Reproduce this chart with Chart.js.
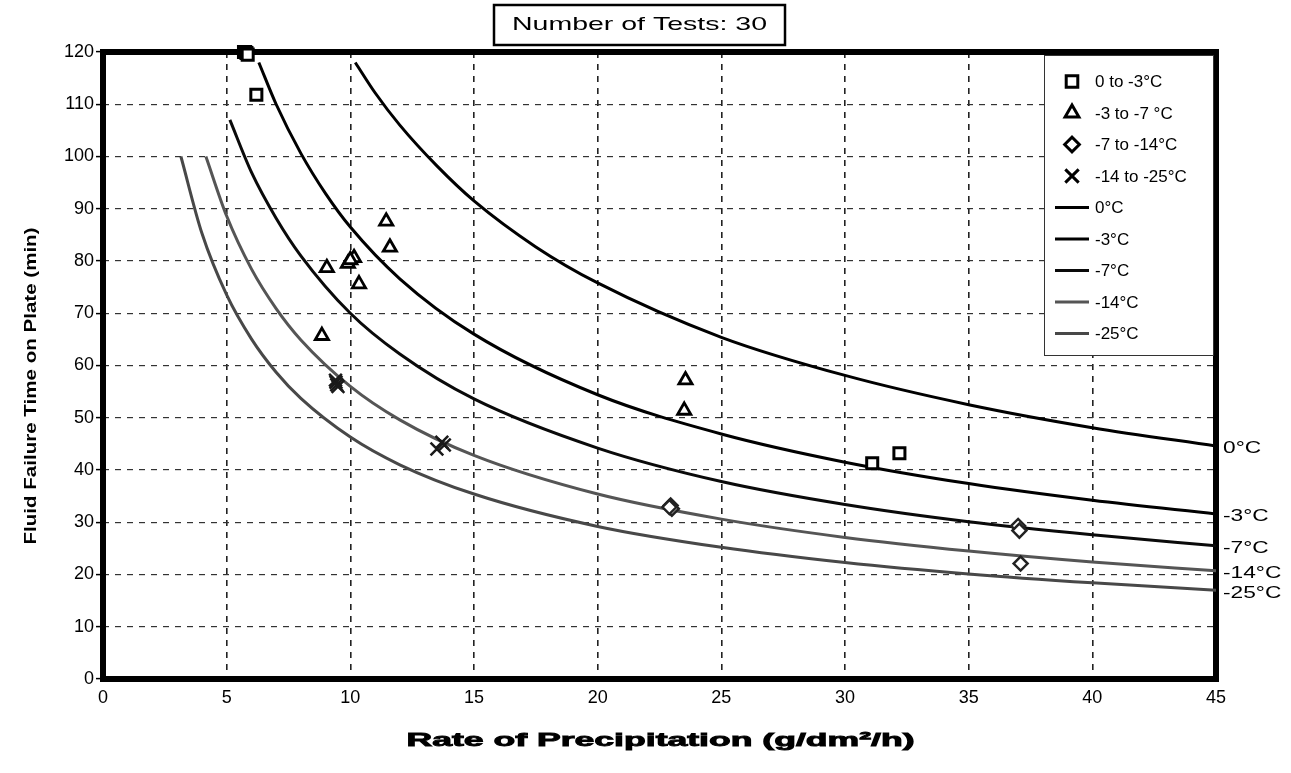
<!DOCTYPE html>
<html>
<head>
<meta charset="utf-8">
<script src="https://cdn.jsdelivr.net/npm/chart.js@4.4.0/dist/chart.umd.min.js"></script>
<style>
html,body{margin:0;padding:0;background:#fff;}
#chart{display:block;}
</style>
</head>
<body>
<canvas id="chart" width="1291" height="773"></canvas>
<script>

/* TEXTES */

const titleText = "Number of Tests: 30";
const xTitle = "Rate of Precipitation (g/dm²/h)";
const yTitle = "Fluid Failure Time on Plate (min)";

const seriesNames = ["0 to -3°C", "-3 to -7 °C", "-7 to -14°C", "-14 to -25°C"];
const curveNames = ["0°C", "-3°C", "-7°C", "-14°C", "-25°C"];

/* AXES */

const xMin = 0, xMax = 45, xStep = 5;
const yMin = 0, yMax = 120, yStep = 10;

/* ESSAIS (points) */

const sqX = [5.7, 5.75, 5.8, 5.85, 6.2, 31.1, 32.2];
const sqY = [120, 120, 119.8, 119.5, 111.8, 41.3, 43.2];

const triX = [11.45, 11.6, 10.15, 9.9, 10.0, 9.05, 10.35, 8.85, 23.55, 23.5];
const triY = [87.6, 82.6, 80.6, 79.5, 80.2, 78.7, 75.6, 65.7, 57.2, 51.4];

const diaX = [22.95, 23.0, 22.9, 37.0, 37.05, 37.1];
const diaY = [33.2, 32.6, 32.9, 29.3, 28.4, 22.1];

const crossX = [9.4, 9.42, 9.45, 9.5, 13.5, 13.8, 13.7];
const crossY = [57.2, 56.8, 56.3, 56.0, 44.0, 44.8, 45.3];

/* COURBES */

const c0X = [10.2, 11, 12, 13.5, 15, 17.5, 20, 25, 30, 35, 40, 45];
const c0Y = [118, 112.2, 106, 98.2, 91.5, 82.7, 75.8, 65.4, 58.1, 52.5, 48.1, 44.6];

const c3X = [6.3, 7, 8, 9, 10, 12, 15, 20, 25, 30, 35, 40, 45];
const c3Y = [118, 110, 100.6, 92.9, 86.5, 76.6, 66.0, 54.4, 46.9, 41.5, 37.4, 34.2, 31.6];

const c7X = [5.13, 6, 7, 8, 10, 12, 15, 20, 25, 30, 35, 40, 45];
const c7Y = [107, 97, 88.2, 81, 70, 62.2, 53.6, 44.2, 37.8, 33.4, 30.1, 27.6, 25.5];

const c14X = [4.16, 5, 6, 7, 8, 10, 12, 15, 20, 25, 30, 35, 40, 45];
const c14Y = [100, 88.6, 78.5, 70.9, 64.9, 56.0, 49.6, 42.8, 35.4, 30.6, 27.1, 24.5, 22.4, 20.7];

const c25X = [3.15, 4, 5, 6, 7, 8, 10, 12, 15, 20, 25, 30, 35, 40, 45];
const c25Y = [100, 85.3, 73.5, 65.1, 58.7, 53.7, 46.3, 41.0, 35.4, 29.2, 25.2, 22.3, 20.1, 18.4, 17.0];

const FONT = 'Arial, "Liberation Sans", sans-serif';

function pts(xs, ys){
return xs.map((x, i) => ({x: x, y: ys[i]}));
}

function testSet(label, xs, ys, style, radius, width, color){
return {
label: label,
data: pts(xs, ys),
showLine: false,
pointStyle: style,
pointRadius: radius,
pointHoverRadius: radius,
pointBorderWidth: width,
borderColor: color,
backgroundColor: "#ffffff",
clip: false,
order: 1
};
}

function curveSet(label, xs, ys, color){
return {
label: label,
data: pts(xs, ys),
showLine: true,
pointRadius: 0,
borderWidth: 3,
borderColor: color,
backgroundColor: color,
cubicInterpolationMode: "monotone",
fill: false,
order: 2
};
}

/* texte élargi horizontalement */

function wideText(ctx, txt, x, y, sx, align, bold){
ctx.save();
ctx.translate(x, y);
ctx.scale(sx, 1);
ctx.textAlign = align;
ctx.fillText(txt, 0, 0);
if(bold){
ctx.lineWidth = bold;
ctx.strokeStyle = ctx.fillStyle;
ctx.strokeText(txt, 0, 0);
}
ctx.restore();
}

/* DECOR : cadre, légende, titres */

const decor = {
id: "decor",

beforeDatasetsDraw(chart){
const ctx = chart.ctx, a = chart.chartArea;
ctx.save();
ctx.strokeStyle = "#000";
ctx.lineWidth = 6;
ctx.strokeRect(a.left, a.top, a.right - a.left, a.bottom - a.top);
ctx.restore();
},

afterDatasetsDraw(chart){
const ctx = chart.ctx, a = chart.chartArea;
const yScale = chart.scales.y;

ctx.save();

/* légende */
let lx = a.right - 172, ly = a.top + 3, lw = 169, lh = 300;
ctx.fillStyle = "#fff";
ctx.fillRect(lx, ly, lw, lh);
ctx.strokeStyle = "#333";
ctx.lineWidth = 1;
ctx.strokeRect(lx + 0.5, ly + 0.5, lw, lh);

chart.data.datasets.forEach((ds, i) => {
let y = ly + 26.5 + 31.5 * i;
let mx = lx + 28;
if(ds.showLine){
ctx.strokeStyle = ds.borderColor;
ctx.lineWidth = 3;
ctx.beginPath();
ctx.moveTo(lx + 11, y);
ctx.lineTo(lx + 45, y);
ctx.stroke();
}else if(Chart.helpers && Chart.helpers.drawPoint){
ctx.save();
ctx.strokeStyle = "#000";
ctx.fillStyle = "#fff";
ctx.lineWidth = 3;
Chart.helpers.drawPoint(ctx, {pointStyle: ds.pointStyle, rotation: 0, radius: ds.pointRadius * 1.05, borderWidth: 3}, mx, y);
ctx.restore();
}
ctx.fillStyle = "#000";
ctx.font = "17px " + FONT;
ctx.textAlign = "left";
ctx.textBaseline = "middle";
ctx.fillText(ds.label, lx + 51, y + 1);
});

/* étiquettes à droite des courbes */
ctx.font = "16px " + FONT;
ctx.fillStyle = "#000";
ctx.textBaseline = "middle";
chart.data.datasets.forEach(ds => {
if(!ds.showLine) return;
let last = ds.data[ds.data.length - 1];
wideText(ctx, ds.label, a.right + 7, yScale.getPixelForValue(last.y) + 3, 1.42, "left");
});

ctx.restore();
},

afterDraw(chart){
const ctx = chart.ctx, a = chart.chartArea;
ctx.save();
ctx.fillStyle = "#000";
ctx.textBaseline = "middle";

/* titre encadré */
ctx.font = "19px " + FONT;
let tw = ctx.measureText(titleText).width;
ctx.strokeStyle = "#000";
ctx.lineWidth = 2.5;
ctx.strokeRect(494, 5, 291, 40);
wideText(ctx, titleText, 639.5, 25, 255 / tw, "center");

/* titre axe X */
ctx.font = "bold 19px " + FONT;
ctx.textBaseline = "alphabetic";
let xw = ctx.measureText(xTitle).width;
wideText(ctx, xTitle, (a.left + a.right) / 2 + 1, 746, 508 / xw, "center", 0.9);

/* titre axe Y */
ctx.font = "bold 16px " + FONT;
ctx.textBaseline = "middle";
let yw = ctx.measureText(yTitle).width;
ctx.translate(32, 386);
ctx.rotate(-Math.PI / 2);
ctx.scale(317 / yw, 1);
ctx.textAlign = "center";
ctx.fillText(yTitle, 0, 0);

ctx.restore();
}
};

/* GRAPH */

const datasets = [
testSet(seriesNames[0], sqX, sqY, "rect", 7.8, 3, "#000"),
testSet(seriesNames[1], triX, triY, "triangle", 7.6, 2.8, "#000"),
testSet(seriesNames[2], diaX, diaY, "rectRot", 7, 2.5, "#222"),
testSet(seriesNames[3], crossX, crossY, "crossRot", 9, 2.5, "#1a1a1a"),
curveSet(curveNames[0], c0X, c0Y, "#000"),
curveSet(curveNames[1], c3X, c3Y, "#000"),
curveSet(curveNames[2], c7X, c7Y, "#0a0a0a"),
curveSet(curveNames[3], c14X, c14Y, "#555"),
curveSet(curveNames[4], c25X, c25Y, "#484848")
];

new Chart(document.getElementById("chart"), {

type: "scatter",

data: {datasets: datasets},

options: {
responsive: false,
animation: false,
devicePixelRatio: 1,
layout: {padding: {top: 52, right: 75, left: 0, bottom: 0}},

plugins: {
legend: {display: false},
tooltip: {enabled: false},
title: {display: false}
},

scales: {
x: {
type: "linear",
min: xMin,
max: xMax,
afterFit: s => { s.height = 94; },
ticks: {stepSize: xStep, color: "#000", font: {family: FONT, size: 18}, padding: 8, maxRotation: 0},
grid: {color: "#222", lineWidth: 1.6, drawTicks: false},
border: {display: false, dash: [6, 6]}
},
y: {
type: "linear",
min: yMin,
max: yMax,
afterFit: s => { s.width = 103; },
ticks: {stepSize: yStep, color: "#000", font: {family: FONT, size: 18}, padding: 2},
grid: {color: "#333", lineWidth: 1.2, drawTicks: true, tickLength: 7, tickColor: "#000", tickWidth: 1.5, tickBorderDash: []},
border: {display: false, dash: [6, 6]}
}
}
},

plugins: [decor]

});

</script>
</body>
</html>
